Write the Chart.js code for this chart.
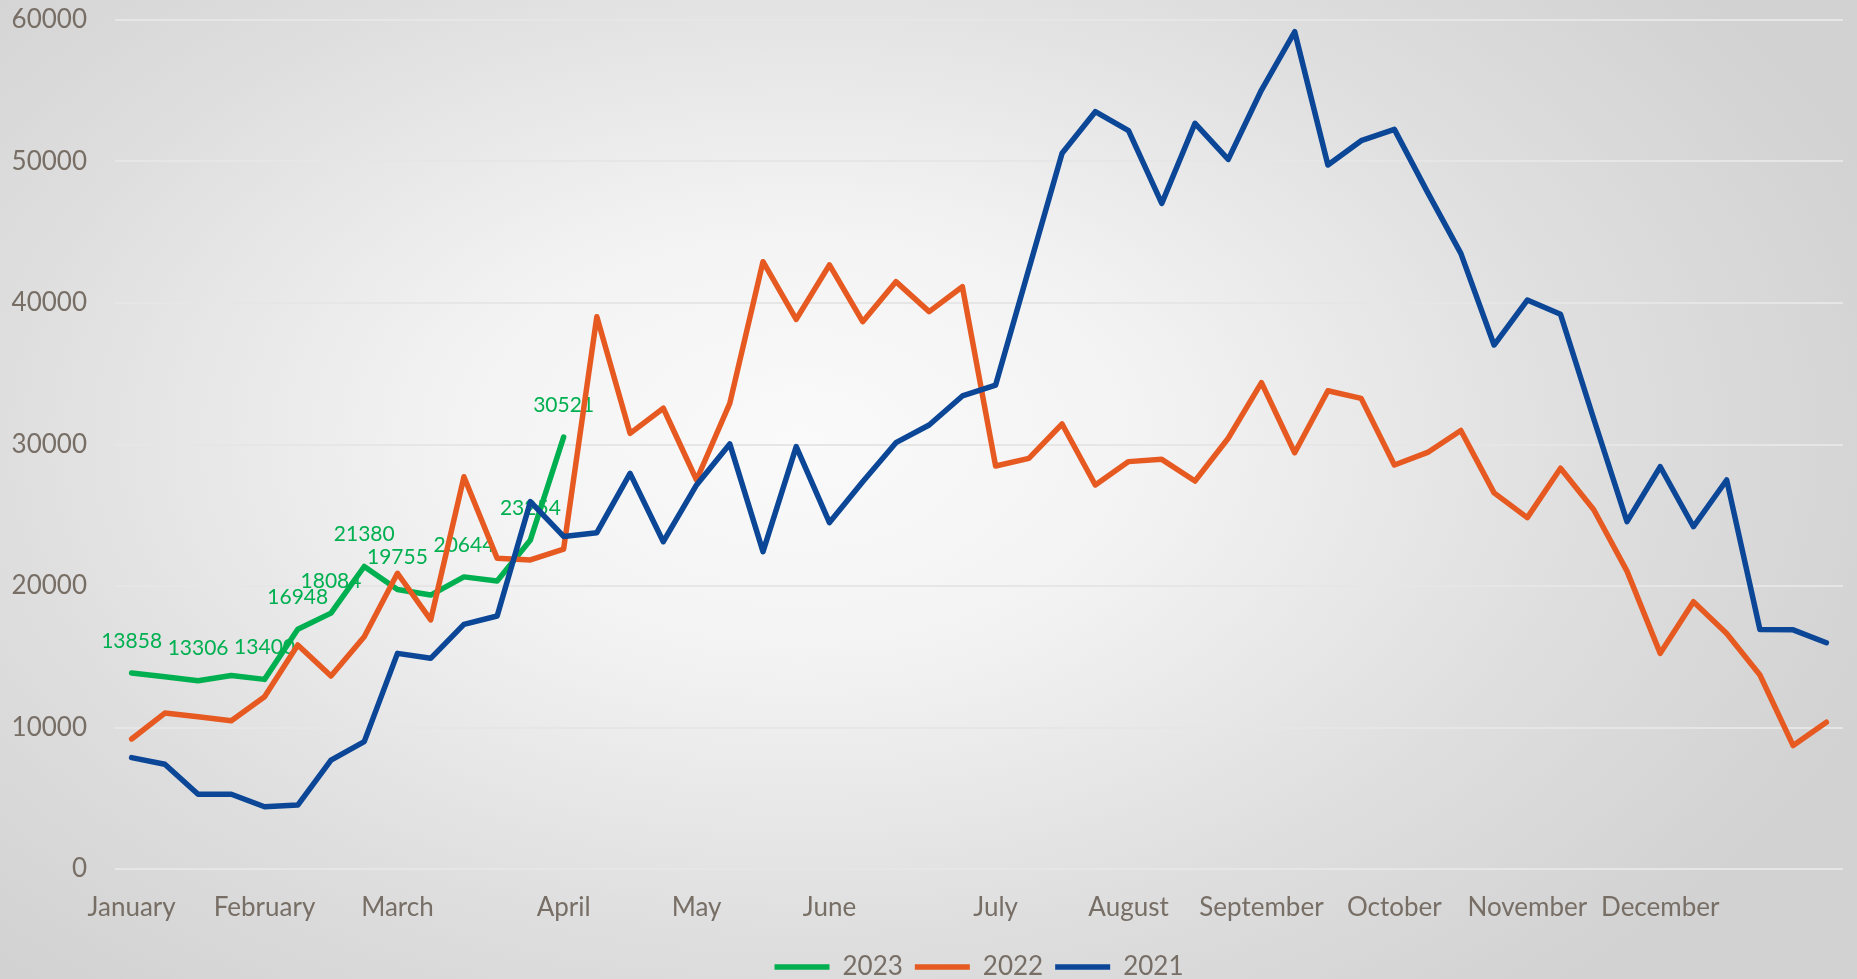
<!DOCTYPE html>
<html>
<head>
<meta charset="utf-8">
<title>Weekly 2021-2023</title>
<script src="https://cdn.jsdelivr.net/npm/chart.js@4.4.0/dist/chart.umd.min.js"></script>
<style>
  html, body { margin: 0; padding: 0; }
  body {
    width: 1857px; height: 979px; overflow: hidden;
    background: radial-gradient(ellipse 1150px 720px at 800px 440px, #fafafa 0%, #f3f3f3 30%, #dedede 70%, #d2d2d2 100%);
  }
  #wrap { position: relative; width: 1857px; height: 979px; }
</style>
</head>
<body>
<div id="wrap"><canvas id="myChart"></canvas></div>
<script>
// weekly values, 52 weeks per year
const monthNames = ["January", "February", "March", "April", "May", "June", "July",
  "August", "September", "October", "November", "December"];
const monthWeek = [0, 4, 8, 13, 17, 21, 26, 30, 34, 38, 42, 46];
const weekCount = 52;

const sales2023 = [13858, 13590, 13306, 13680, 13400, 16948, 18084, 21380, 19755, 19360,
  20644, 20350, 23254, 30521];
// only these weeks carry a value label in the original
const labelWeeks2023 = [0, 2, 4, 5, 6, 7, 8, 10, 12, 13];

const sales2022 = [9190, 11020, 10760, 10480, 12180, 15830, 13640, 16420, 20900, 17600,
  27720, 21960, 21840, 22600, 39030, 30790, 32560, 27490, 32910, 42920,
  38850, 42690, 38680, 41510, 39390, 41150, 28480, 29020, 31450, 27140,
  28790, 28950, 27420, 30440, 34370, 29420, 33800, 33260, 28550, 29440,
  30990, 26580, 24830, 28320, 25390, 21050, 15240, 18890, 16640, 13710,
  8720, 10370];

const sales2021 = [7870, 7400, 5280, 5280, 4400, 4520, 7700, 9000, 15240, 14890,
  17290, 17880, 25960, 23500, 23770, 27960, 23130, 27140, 30040, 22430,
  29850, 24480, 27370, 30130, 31380, 33430, 34200, 42400, 50580, 53520,
  52180, 47040, 52700, 50150, 55050, 59170, 49750, 51470, 52270, 47820,
  43510, 37030, 40210, 39200, 31800, 24550, 28430, 24190, 27490, 16920,
  16900, 15990];

const yTicks = [0, 10000, 20000, 30000, 40000, 50000, 60000];

var green = "#00B050";
var orange = "#E65A22";
var blue = "#0B4697";
var textGray = "#776E66";

function weekLabels(){
  var labels = [];
  for (var i = 0; i < weekCount; i++) labels.push("");
  for (var m = 0; m < monthNames.length; m++) labels[monthWeek[m]] = monthNames[m];
  return labels;
}

// green value labels, drawn under the lines like in the source
const valueLabels = {
  id: "valueLabels",
  beforeDatasetsDraw(chart) {
    const meta = chart.getDatasetMeta(0);
    const ctx = chart.ctx;
    ctx.save();
    ctx.font = "21px Lato";
    ctx.fillStyle = green;
    ctx.textAlign = "center";
    ctx.textBaseline = "middle";
    labelWeeks2023.forEach(function(i){
      const pt = meta.data[i];
      if (pt) ctx.fillText(String(sales2023[i]), pt.x, pt.y - 32);
    });
    ctx.restore();
  }
};

function lineSet(label, data, color, order){
  return {
    label: label,
    data: data,
    borderColor: color,
    backgroundColor: color,
    borderWidth: 5.5,
    borderJoinStyle: "round",
    borderCapStyle: "round",
    pointRadius: 0,
    tension: 0,
    order: order
  };
}

new Chart("myChart", {
  type: "line",
  data: {
    labels: weekLabels(),
    datasets: [
      lineSet("2023", sales2023, green, 2),
      lineSet("2022", sales2022, orange, 1),
      lineSet("2021", sales2021, blue, 0)
    ]
  },
  options: {
    responsive: true,
    maintainAspectRatio: false,
    animation: false,
    layout: { padding: { top: 20, right: 14, bottom: -11, left: 0 } },
    scales: {
      x: {
        offset: true,
        grid: { display: false },
        border: { display: false },
        ticks: {
          autoSkip: false,
          maxRotation: 0,
          padding: 15,
          color: textGray,
          font: { family: "Lato", size: 26 }
        },
        afterFit: function(s){ s.height = 73; }
      },
      y: {
        min: 0,
        max: 60000,
        grid: { color: "#e6e6e6", lineWidth: 2, drawTicks: false },
        border: { display: false },
        afterBuildTicks: function(s){ s.ticks = yTicks.map(function(v){ return { value: v }; }); },
        ticks: {
          padding: 28,
          color: textGray,
          font: { family: "Lato", size: 26 },
          callback: function(v){ return String(v); }
        },
        afterFit: function(s){
          s.width = 115;
          // tick padding should not push the plot area down
          s.paddingTop = 0;
          s.paddingBottom = 0;
        }
      }
    },
    plugins: {
      tooltip: { enabled: false },
      legend: {
        position: "bottom",
        fullSize: false,
        labels: {
          usePointStyle: true,
          pointStyle: "line",
          pointStyleWidth: 55,
          padding: 12,
          color: textGray,
          font: { family: "Lato", size: 26 },
          sort: function(a, b){ return a.datasetIndex - b.datasetIndex; }
        }
      }
    }
  },
  plugins: [valueLabels]
});
</script>
</body>
</html>
